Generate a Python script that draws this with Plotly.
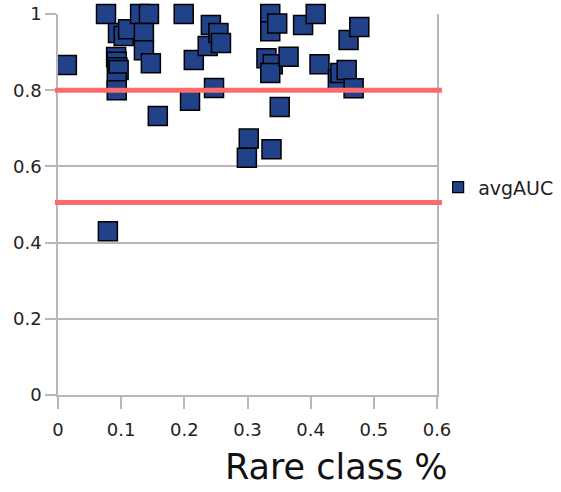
import plotly.graph_objects as go

rare_class = [0.014, 0.076, 0.079, 0.092, 0.093, 0.094, 0.096, 0.093, 0.093, 0.095,
              0.104, 0.111, 0.130, 0.144, 0.136, 0.136, 0.147, 0.158, 0.199, 0.209,
              0.215, 0.237, 0.242, 0.254, 0.258, 0.247, 0.299, 0.302, 0.338, 0.336,
              0.336, 0.347, 0.330, 0.340, 0.336, 0.365, 0.351, 0.388, 0.408, 0.414,
              0.443, 0.447, 0.457, 0.460, 0.468, 0.477]
avg_auc = [0.866, 1.000, 0.430, 0.887, 0.875, 0.860, 0.853, 0.820, 0.800, 0.950,
           0.942, 0.960, 1.000, 1.000, 0.950, 0.905, 0.871, 0.732, 1.000, 0.772,
           0.879, 0.916, 0.971, 0.950, 0.924, 0.806, 0.623, 0.673, 0.645, 1.000,
           0.955, 0.975, 0.884, 0.868, 0.845, 0.888, 0.756, 0.971, 1.000, 0.868,
           0.829, 0.845, 0.853, 0.932, 0.805, 0.966]
thresholds = [0.8, 0.505]
x_ticks = [0, 0.1, 0.2, 0.3, 0.4, 0.5, 0.6]
x_tick_labels = ["0", "0.1", "0.2", "0.3", "0.4", "0.5", "0.6"]
y_ticks = [0, 0.2, 0.4, 0.6, 0.8, 1]
y_tick_labels = ["0", "0.2", "0.4", "0.6", "0.8", "1"]
series_name = "avgAUC"
x_title = "Rare class %"

MARKER_COLOR = "#214189"
GRID = "#b8b8b8"
FONT = "DejaVu Sans"

fig = go.Figure()
fig.add_trace(go.Scatter(
    x=rare_class, y=avg_auc, mode="markers", showlegend=False,
    cliponaxis=False,
    marker=dict(symbol="square", size=19, color=MARKER_COLOR,
                line=dict(color="black", width=1.5)),
))
fig.add_trace(go.Scatter(
    x=[None], y=[None], mode="markers", name=series_name,
    marker=dict(symbol="square", size=11, color=MARKER_COLOR,
                line=dict(color="black", width=1.2)),
))

for t in thresholds:
    fig.add_shape(type="line", xref="paper", yref="y", x0=-0.008, x1=1.013,
                  y0=t, y1=t, line=dict(color="#ff6b6b", width=5), layer="above")

fig.update_layout(
    width=561, height=492,
    margin=dict(l=58, r=124, t=14, b=97, autoexpand=False),
    paper_bgcolor="white", plot_bgcolor="white",
    font=dict(family=FONT, size=18, color="#222"),
    legend=dict(x=1.003, y=0.545, xanchor="left", yanchor="middle",
                font=dict(size=19, color="#222"), bgcolor="rgba(0,0,0,0)"),
    annotations=[dict(text=x_title, xref="paper", yref="paper", x=0.735, y=-0.19,
                      xanchor="center", yanchor="middle", showarrow=False,
                      font=dict(family=FONT, size=35, color="#111"))],
)
fig.update_xaxes(range=[0, 0.6], tickvals=x_ticks, ticktext=x_tick_labels,
                 showgrid=False, zeroline=False, showline=True, linecolor=GRID,
                 linewidth=1.5, ticks="outside", ticklen=12, tickcolor=GRID,
                 tickwidth=1.5, ticklabelstandoff=6, automargin=False)
fig.update_yaxes(range=[0, 1], tickvals=y_ticks, ticktext=y_tick_labels,
                 showgrid=True, gridcolor=GRID, gridwidth=1.5, zeroline=False,
                 showline=True, mirror=True, linecolor=GRID, linewidth=1.5,
                 ticks="outside", ticklen=11, tickcolor=GRID, tickwidth=1.5,
                 automargin=False)

fig.write_html("out.html", config={"displayModeBar": False},
               post_script="document.body.style.margin='0';document.body.style.overflow='hidden';")
